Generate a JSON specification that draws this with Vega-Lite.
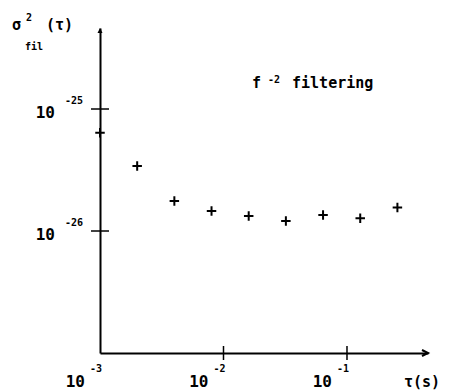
{
  "$schema": "https://vega.github.io/schema/vega-lite/v6.json",
  "width": 328,
  "height": 325,
  "autosize": {"type": "none"},
  "padding": {"left": 100, "top": 28, "right": 23, "bottom": 39},
  "background": "white",
  "config": {
    "view": {"stroke": null},
    "text": {"font": "DejaVu Sans Mono", "fontWeight": "bold", "color": "black"}
  },
  "datasets": {
    "points": [
      {"x": 0.001, "y": 6.40e-26},
      {"x": 0.002, "y": 3.41e-26},
      {"x": 0.004, "y": 1.76e-26},
      {"x": 0.008, "y": 1.46e-26},
      {"x": 0.016, "y": 1.33e-26},
      {"x": 0.032, "y": 1.21e-26},
      {"x": 0.064, "y": 1.35e-26},
      {"x": 0.128, "y": 1.27e-26},
      {"x": 0.256, "y": 1.56e-26}
    ],
    "xticks": [
      {"x": 0.01, "y": 1e-27},
      {"x": 0.1, "y": 1e-27}
    ],
    "xlabels": [
      {"x": 0.001, "y": 1e-27, "e": "-3"},
      {"x": 0.01, "y": 1e-27, "e": "-2"},
      {"x": 0.1, "y": 1e-27, "e": "-1"}
    ],
    "yticks": [
      {"x": 0.001, "y": 1e-25, "e": "-25"},
      {"x": 0.001, "y": 1e-26, "e": "-26"}
    ],
    "big": [
      {"x": 0.0001938, "y": 4.441e-25, "t": "σ"},
      {"x": 0.0003654, "y": 4.441e-25, "t": "(τ)"},
      {"x": 0.01701, "y": 1.486e-25, "t": "f"},
      {"x": 0.03587, "y": 1.486e-25, "t": "filtering"},
      {"x": 0.2894, "y": 5.263e-28, "t": "τ(s)"}
    ],
    "small": [
      {"x": 0.0002517, "y": 5.263e-25, "t": "2"},
      {"x": 0.0002470, "y": 3.045e-25, "t": "fil"},
      {"x": 0.02293, "y": 1.633e-25, "t": "-2"}
    ]
  },
  "encoding": {
    "x": {
      "field": "x", "type": "quantitative",
      "scale": {"type": "log", "domain": [0.001, 0.45286], "nice": false},
      "axis": {"domain": true, "domainColor": "black", "domainWidth": 2, "ticks": false, "labels": false, "grid": false, "title": null}
    },
    "y": {
      "field": "y", "type": "quantitative",
      "scale": {"type": "log", "domain": [1e-27, 4.613e-25], "nice": false},
      "axis": {"domain": true, "domainColor": "black", "domainWidth": 2, "ticks": false, "labels": false, "grid": false, "title": null}
    }
  },
  "layer": [
    {
      "data": {"name": "points"},
      "mark": {"type": "point", "shape": "M-1,0L1,0M0,-1L0,1", "size": 90, "filled": false, "color": "black", "strokeWidth": 2, "opacity": 1}
    },
    {
      "data": {"name": "xticks"},
      "mark": {"type": "tick", "orient": "vertical", "size": 14, "thickness": 1.5, "color": "black", "opacity": 1}
    },
    {
      "data": {"name": "yticks"},
      "mark": {"type": "tick", "orient": "horizontal", "size": 18, "thickness": 1.5, "color": "black", "opacity": 1}
    },
    {
      "data": {"values": [{"x": 0.45286, "y": 1e-27}]},
      "mark": {"type": "point", "shape": "M-2,-1L0,0L-2,1", "size": 36, "filled": false, "color": "black", "strokeWidth": 2, "opacity": 1}
    },
    {
      "data": {"values": [{"x": 0.001, "y": 4.613e-25}]},
      "mark": {"type": "point", "shape": "M-1,2L0,0L1,2Z", "size": 25, "filled": true, "color": "black", "strokeWidth": 1.5, "opacity": 1}
    },
    {
      "data": {"name": "xlabels"},
      "mark": {"type": "text", "text": "10", "align": "right", "baseline": "alphabetic", "dx": -15, "dy": 34, "fontSize": 16}
    },
    {
      "data": {"name": "xlabels"},
      "mark": {"type": "text", "align": "left", "baseline": "alphabetic", "dx": -10, "dy": 19, "fontSize": 10},
      "encoding": {"text": {"field": "e"}}
    },
    {
      "data": {"name": "yticks"},
      "mark": {"type": "text", "text": "10", "align": "right", "baseline": "alphabetic", "dx": -45, "dy": 9, "fontSize": 16}
    },
    {
      "data": {"name": "yticks"},
      "mark": {"type": "text", "align": "left", "baseline": "alphabetic", "dx": -35, "dy": -5, "fontSize": 10},
      "encoding": {"text": {"field": "e"}}
    },
    {
      "data": {"name": "big"},
      "mark": {"type": "text", "align": "left", "baseline": "alphabetic", "fontSize": 15},
      "encoding": {"text": {"field": "t"}}
    },
    {
      "data": {"name": "small"},
      "mark": {"type": "text", "align": "left", "baseline": "alphabetic", "fontSize": 10},
      "encoding": {"text": {"field": "t"}}
    }
  ]
}
